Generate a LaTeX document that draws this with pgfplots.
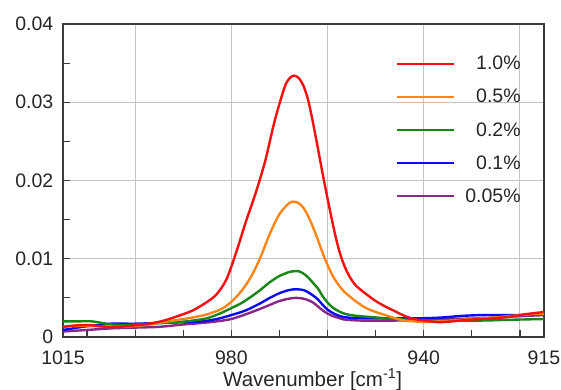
\documentclass[border=0pt]{standalone}
\usepackage{pgfplots}
\pgfplotsset{compat=1.18}
\usepackage{fontspec}
\setmainfont{Liberation Sans}
\definecolor{cRed}{RGB}{245,15,15}
\definecolor{cOrange}{RGB}{255,133,27}
\definecolor{cGreen}{RGB}{20,135,20}
\definecolor{cBlue}{RGB}{10,10,245}
\definecolor{cPurple}{RGB}{135,40,135}
\definecolor{cGrid}{RGB}{195,195,195}
\definecolor{cAxis}{RGB}{60,60,60}
\begin{document}
\begin{tikzpicture}
\useasboundingbox (0,0) rectangle (561pt,390pt);
\begin{axis}[
  at={(63pt,53pt)}, anchor=south west,
  scale only axis, width=481pt, height=313pt,
  x dir=reverse,
  xmin=915, xmax=1015, ymin=0, ymax=0.04,
  scaled y ticks=false, scaled x ticks=false,
  axis line style={cAxis, line width=1.2pt},
  tick style={cAxis, line width=1.1pt},
  tick align=inside,
  xtick pos=bottom, ytick pos=left,
  major tick length=7pt, minor tick length=7pt,
  xtick={1000,980,960,940,920},
  xticklabels={},
  minor xtick={1010,990,970,950,930},
  extra x ticks={1015,980,940,915},
  extra x tick labels={1015,980,940,915},
  extra x tick style={grid=none, major tick length=0pt},
  ytick={0,0.01,0.02,0.03,0.04},
  yticklabels={0,0.01,0.02,0.03,0.04},
  minor ytick={0.005,0.015,0.025,0.035},
  grid=major,
  major grid style={cGrid, line width=1pt},
  font=\fontsize{19.5}{22}\selectfont,
  tick label style={font=\fontsize{19.5}{22}\selectfont, text=black!85, inner sep=1pt},
  xticklabel style={yshift=-12.5pt},
  yticklabel style={xshift=-8.5pt},
  xlabel={Wavenumber [cm\textsuperscript{-1}]},
  xlabel style={at={(axis description cs:0.519,0)}, anchor=base, yshift=-49pt, font=\fontsize{20.5}{23}\selectfont, text=black!85},
  legend image code/.code={\draw[#1] (0pt,0pt) -- (57pt,0pt);},
  reverse legend,
  legend cell align=right,
  legend style={draw=none, fill=none, at={(0.956,0.904)}, anchor=north east,
    row sep=14pt, column sep=8pt, inner sep=0pt,
    font=\fontsize{19.5}{22}\selectfont, text=black!85},
  every axis plot/.append style={line width=2.4pt, smooth, no markers},
]
\addplot[cPurple] table {
1015 0.0007
1010 0.0009
1005 0.0011
1000 0.0012
995 0.0013
990 0.0016
986 0.0018
983 0.0020
980 0.0023
977 0.0029
974 0.0036
972 0.0041
970 0.0046
968 0.0049
966.5 0.0050
965 0.0049
964 0.0047
963 0.0044
962 0.0039
961 0.0034
960 0.0030
959 0.0027
958 0.0025
957 0.0023
956 0.0022
953 0.0021
946 0.0021
940 0.0022
934 0.0023
928 0.0024
922 0.0026
915 0.0028
};
\addlegendentry{0.05\%}
\addplot[cBlue] table {
1015 0.0009
1013 0.0011
1011 0.0013
1008 0.0015
1005 0.0017
1000 0.0017
995 0.0018
990 0.0019
986 0.0020
983 0.0023
980 0.0028
977 0.0034
974 0.0043
972 0.0050
970 0.0056
968 0.0060
966.5 0.0061
965 0.0060
964 0.0057
963 0.0053
962 0.0048
961 0.0041
960 0.0035
959 0.0031
958 0.0028
957 0.0026
956 0.0025
953 0.0024
948 0.0024
944 0.0024
940 0.0024
936 0.0025
932 0.0027
928 0.0028
924 0.0028
920 0.0028
915 0.0030
};
\addlegendentry{0.1\%}
\addplot[cGreen] table {
1015 0.0020
1012 0.0020
1009 0.0020
1006 0.0017
1003 0.0015
1000 0.0016
997 0.0017
994 0.0018
991 0.0019
988 0.0021
985 0.0024
982 0.0031
980 0.0037
978 0.0043
976 0.0051
974 0.0060
972 0.0070
970 0.0078
968 0.0083
967 0.0084
966 0.0084
965 0.0081
964 0.0076
963 0.0069
962 0.0062
961 0.0052
960 0.0044
959 0.0038
958 0.0034
957 0.0031
956 0.0029
954 0.0027
952 0.0026
950 0.0025
946 0.0023
940 0.0021
934 0.0021
928 0.0021
922 0.0022
915 0.0023
};
\addlegendentry{0.2\%}
\addplot[cOrange] table {
1015 0.0013
1012 0.0014
1009 0.0014
1006 0.0013
1003 0.0013
1000 0.0014
997 0.0016
994 0.0019
991 0.0022
988 0.0025
985 0.0029
982 0.0036
980 0.0045
978 0.0058
976 0.0076
974 0.0101
972 0.0132
970 0.0157
968 0.0171
967 0.0173
966 0.0171
965 0.0165
964 0.0154
963 0.0140
962 0.0124
961 0.0107
960 0.0092
959 0.0079
958 0.0069
957 0.0061
956 0.0055
954 0.0045
952 0.0037
950 0.0032
948 0.0028
946 0.0024
944 0.0021
942 0.0020
940 0.0019
937 0.0020
934 0.0021
930 0.0023
925 0.0025
920 0.0028
915 0.0030
};
\addlegendentry{0.5\%}
\addplot[cRed] table {
1015 0.0013
1012 0.0015
1009 0.0015
1006 0.0013
1003 0.0013
1000 0.0015
997 0.0017
994 0.0021
991 0.0027
988 0.0034
985 0.0045
983 0.0055
981 0.0074
979 0.0108
977 0.0147
975 0.0183
973 0.0224
971 0.0276
969 0.0318
968 0.0330
967 0.0334
966 0.0331
965 0.0321
964 0.0302
963 0.0273
962 0.0241
961 0.0208
960 0.0177
959 0.0147
958 0.0120
957 0.0099
956 0.0084
955 0.0073
954 0.0065
952 0.0055
950 0.0046
948 0.0039
946 0.0033
944 0.0027
942 0.0023
940 0.0021
937 0.0019
934 0.0020
931 0.0022
928 0.0023
925 0.0024
922 0.0026
919 0.0029
915 0.0032
};
\addlegendentry{1.0\%}
\end{axis}
\end{tikzpicture}
\end{document}
